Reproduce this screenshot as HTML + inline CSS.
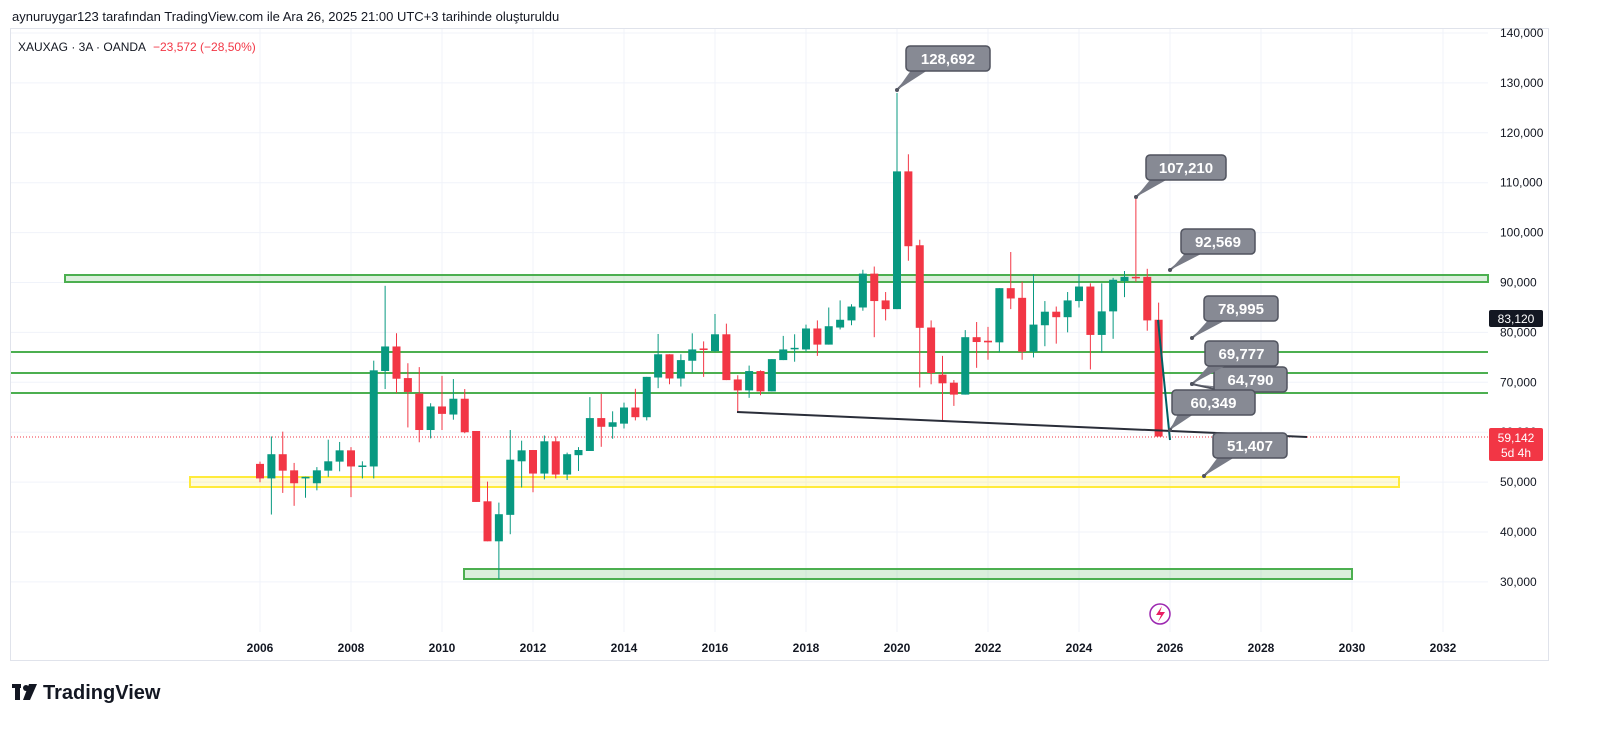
<!DOCTYPE html>
<html><head><meta charset="utf-8"><style>
html,body{margin:0;padding:0;background:#fff;width:1600px;height:741px;overflow:hidden;font-family:"Liberation Sans",sans-serif}
</style></head><body>
<svg id="s" width="1600" height="741" xmlns="http://www.w3.org/2000/svg" font-family="Liberation Sans, sans-serif">
<rect width="1600" height="741" fill="#fff"/>
<text x="12" y="21" font-size="13" fill="#131722">aynuruygar123 tarafından TradingView.com ile Ara 26, 2025 21:00 UTC+3 tarihinde oluşturuldu</text>
<rect x="10.5" y="28.5" width="1538" height="632" fill="none" stroke="#e0e3eb"/>
<g id="grid"></g>
<g id="zones"></g>
<g id="candles"></g>
<g id="draw"></g>
<text x="18" y="51" font-size="12" fill="#131722">XAUXAG · 3A · OANDA</text>
<text x="153" y="51" font-size="12" fill="#f23645">−23,572 (−28,50%)</text>
<g id="axis" font-size="12" fill="#131722"></g>
<g transform="translate(12,682)">
<rect x="0" y="2" width="9" height="4" fill="#131722"/><rect x="3" y="2" width="5" height="16" fill="#131722"/>
<circle cx="14" cy="6" r="3" fill="#131722"/><path d="M17 2 H25 L18 18 H11 Z" fill="#131722"/>
<text x="31" y="17" font-size="20" font-weight="bold" fill="#131722">TradingView</text>
</g>
<circle cx="1160" cy="614" r="10" fill="none" stroke="#9c27b0" stroke-width="1.5"/>
<path d="M1162 606 L1156 615 H1161 L1158 622 L1165 612 H1160 Z" fill="#e91e63"/>
</svg>
<script>
const NS="http://www.w3.org/2000/svg";
function el(p,t,a,txt){const e=document.createElementNS(NS,t);for(const k in a)e.setAttribute(k,a[k]);if(txt!==undefined)e.textContent=txt;document.getElementById(p).appendChild(e);return e;}
const Y=v=>33+(140000-v)*0.00499;
// grid
for(let v=30000;v<=140000;v+=10000){const y=Y(v);el('grid','line',{x1:11,x2:1488,y1:y,y2:y,stroke:'#f0f3fa'});
 el('axis','text',{x:1500,y:y+4},v.toLocaleString('en-US'));}
for(let yr=2006;yr<=2032;yr+=2){const x=260+(yr-2006)*45.5;el('grid','line',{x1:x,x2:x,y1:29,y2:632,stroke:'#f0f3fa'});
 el('axis','text',{x:x,y:652,'text-anchor':'middle','font-weight':'bold'},yr);}
// zones
el('zones','rect',{x:65,y:275,width:1423,height:7,fill:'rgba(76,175,80,0.2)',stroke:'#4caf50','stroke-width':2});
[352,373,393].forEach(y=>el('zones','line',{x1:11,x2:1488,y1:y,y2:y,stroke:'#4caf50','stroke-width':2}));
el('zones','rect',{x:190,y:477,width:1209,height:10,fill:'rgba(255,235,59,0.2)',stroke:'#ffeb3b','stroke-width':2});
el('zones','rect',{x:464,y:569,width:888,height:10,fill:'rgba(76,175,80,0.2)',stroke:'#4caf50','stroke-width':2});
el('zones','line',{x1:11,x2:1488,y1:437,y2:437,stroke:'#f23645','stroke-dasharray':'1 2','stroke-width':1});
// candles
const z1=[['r',615,660,608,672],['g',585,660,530,772],['r',585,636,515,705],['r',635,675,612,745],['g',655,660,655,720],['g',635,675,625,697],['g',607,636,540,655],['g',573,608,547,638],['r',573,623,563,718],['g',620,623,607,660],['g',325,623,295,660],['g',251,327,63,383],['r',251,351,210,395],['r',349,392,303,502],['r',397,510,315,548],['g',437,510,427,536],['r',437,460,342,510],['g',413,462,352,478],['r',413,517,383,520],['r',513,733,513,733],['r',731,855,670,855],['g',771,855,735,972],['g',602,773,510,833],['g',573,607,543,688],['r',572,645,572,703],['g',545,645,527,663],['r',545,648,530,660],['g',585,648,580,665],['g',572,588,563,637],['g',473,575,408,575],['r',473,500,398,562],['g',486,500,452,537]];
const z2=[['g',470,520,455,535],['r',470,500,412,510],['g',375,500,375,510],['g',305,377,242,410],['r',305,380,305,398],['g',323,380,305,405],['g',290,325,240,362],['r',287,290,265,375],['g',243,295,180,298],['r',243,385,210,385],['r',383,417,370,483],['g',357,417,340,440],['r',357,420,355,432],['g',320,420,320,420],['g',290,323,248,323],['g',285,288,243,328],['g',225,290,213,297],['r',225,275,200,310],['g',218,275,160,275],['g',198,222,138,228]];
const z3=[['g',697,740,690,755],['g',595,700,583,710],['r',595,680,573,792],['r',678,705,652,740],['g',278,705,35,705],['r',278,510,225,555],['r',507,763,490,948],['r',762,903,740,938],['r',908,935,850,1050],['r',933,970,925,1005],['g',792,970,770,970],['r',792,807,745,887],['r',803,808,760,862],['g',640,808,640,838],['r',640,672,528,705],['r',670,837,620,862],['g',753,837,597,855],['g',713,755,680,820],['r',713,730,697,812],['g',678,730,652,777],['g',635,680,597,700],['r',635,785,625,892],['g',712,785,625,840],['g',614,712,608,797],['g',605,618,587,668],['r',605,608,362,620],['r',605,740,580,772],['r',738,1100,685,1100]];
function draw(list,start,off){list.forEach((c,i)=>{const x=260+(start+i)*11.375;const col=c[0]=='g'?'#089981':'#f23645';
 const t=off+c[1]/3.1,b=off+c[2]/3.1,wt=off+c[3]/3.1,wb=off+c[4]/3.1;
 el('candles','line',{x1:x,x2:x,y1:wt,y2:wb,stroke:col,'stroke-width':1});
 el('candles','rect',{x:x-4,y:t,width:8,height:Math.max(1.5,b-t),fill:col});});}
draw(z1,0,265.5);draw(z2,32,255.9);draw(z3,52,81.7);
// drawings
el('draw','line',{x1:737,y1:412,x2:1307,y2:437,stroke:'#2a2e39','stroke-width':2});
el('draw','line',{x1:1158,y1:320,x2:1170,y2:440,stroke:'#006064','stroke-width':2});
function call(bx,by,w,txt,px,py){
 el('draw','line',{x1:px,y1:py,x2:bx+10,y2:by+24,stroke:'#50535e','stroke-width':2});
 el('draw','path',{d:`M${px} ${py} L${bx+8} ${by+20} L${bx+22} ${by+24} Z`,fill:'#787b86'});
 el('draw','circle',{cx:px,cy:py,r:2,fill:'#50535e'});
 el('draw','rect',{x:bx,y:by,width:w,height:25,rx:4,fill:'#878a94',stroke:'#50535e','stroke-width':1.5});
 el('draw','text',{x:bx+w/2,y:by+18,'text-anchor':'middle','font-size':15,'font-weight':'bold',fill:'#fff'},txt);}
call(906,46,84,'128,692',897,90);
call(1146,155,80,'107,210',1136,197);
call(1181,229,74,'92,569',1170,270);
call(1204,296,74,'78,995',1192,338);
call(1214,367,73,'64,790',1192,384);
call(1205,341,73,'69,777',1192,384);
call(1172,390,83,'60,349',1170,430);
call(1213,433,74,'51,407',1204,476);
// price labels
el('axis','rect',{x:1489,y:310,width:54,height:17,rx:2,fill:'#131722'});
el('axis','text',{x:1516,y:323,'text-anchor':'middle',fill:'#fff'},'83,120');
el('axis','rect',{x:1489,y:428,width:54,height:33,rx:2,fill:'#f23645'});
el('axis','text',{x:1516,y:442,'text-anchor':'middle',fill:'#fff'},'59,142');
el('axis','text',{x:1516,y:457,'text-anchor':'middle',fill:'#fff'},'5d 4h');
</script>
</body></html>
